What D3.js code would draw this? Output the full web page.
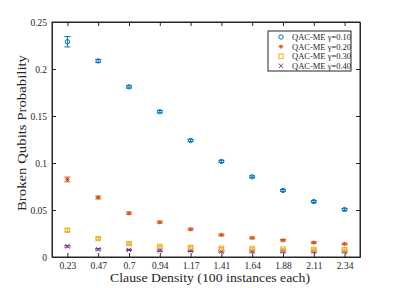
<!DOCTYPE html>
<html>
<head>
<meta charset="utf-8">
<script src="https://cdn.jsdelivr.net/npm/d3@7"></script>
<style>
  body { margin: 0; background: #fff; }
  text { font-family: "Liberation Serif", "Times New Roman", serif; fill: #262626; }
</style>
</head>
<body>
<div id="chart"></div>
<script>
// data
let densities = ["0.23", "0.47", "0.7", "0.94", "1.17", "1.41", "1.64", "1.88", "2.11", "2.34"];
let seriesNames = ["QAC-ME \u03b3=0.10", "QAC-ME \u03b3=0.20", "QAC-ME \u03b3=0.30", "QAC-ME \u03b3=0.40"];
let g010 = [0.229, 0.2086, 0.181, 0.1546, 0.124, 0.1017, 0.0853, 0.0708, 0.059, 0.0505];
let g020 = [0.0825, 0.0633, 0.0466, 0.037, 0.0295, 0.0235, 0.0203, 0.0178, 0.0153, 0.0139];
let g030 = [0.0285, 0.0196, 0.0143, 0.0114, 0.0103, 0.0093, 0.009, 0.0085, 0.008, 0.0078];
let g040 = [0.0114, 0.0082, 0.0075, 0.0068, 0.0066, 0.006, 0.006, 0.0059, 0.0058, 0.0058];
let e010 = [0.0055, 0.0015, 0.0012, 0.0012, 0.0012, 0.0011, 0.001, 0.001, 0.001, 0.001];
let e020 = [0.0025, 0.0015, 0.0012, 0.001, 0.001, 0.0009, 0.0009, 0.0008, 0.0008, 0.0008];
let e030 = [0.0015, 0.0012, 0.001, 0.0009, 0.0009, 0.0008, 0.0008, 0.0008, 0.0008, 0.0008];
let e040 = [0.0009, 0.0008, 0.0007, 0.0007, 0.0007, 0.0007, 0.0007, 0.0007, 0.0007, 0.0007];
let yTicks = [0, 0.05, 0.1, 0.15, 0.2, 0.25];

let colors = ["#0072BD", "#D95319", "#EDB120", "#7E2F8E"];
let shapes = ["circle", "asterisk", "square", "cross"];

let width = 399, height = 288;
let margin = {top: 22, right: 39, bottom: 31, left: 52};
let w = width - margin.left - margin.right,
    h = height - margin.top - margin.bottom;

let svg = d3.select("#chart").append("svg")
    .attr("width", width)
    .attr("height", height);

let g = svg.append("g")
    .attr("transform", "translate(" + margin.left + "," + margin.top + ")");

let x = d3.scaleLinear().domain([-0.5, densities.length - 0.5]).range([0, w]);
let y = d3.scaleLinear().domain([0, 0.25]).range([h, 0]);

// axes, MATLAB style: box with inward ticks
let tickLen = 4;
let xAxis = d3.axisBottom(x).tickValues(d3.range(densities.length))
    .tickFormat(i => densities[i]).tickSizeInner(-tickLen).tickSizeOuter(0).tickPadding(5);
let yAxis = d3.axisLeft(y).tickValues(yTicks)
    .tickFormat(d => String(+d.toFixed(2))).tickSizeInner(-tickLen).tickSizeOuter(0).tickPadding(5);

g.append("g").attr("transform", "translate(0," + h + ")").call(xAxis);
g.append("g").call(yAxis);
g.append("g").call(d3.axisTop(x).tickValues(d3.range(densities.length)).tickFormat("").tickSizeInner(-tickLen).tickSizeOuter(0));
g.append("g").attr("transform", "translate(" + w + ",0)")
    .call(d3.axisRight(y).tickValues(yTicks).tickFormat("").tickSizeInner(-tickLen).tickSizeOuter(0));

g.selectAll(".domain").attr("stroke", "#262626");
g.selectAll(".tick line").attr("stroke", "#262626");
g.selectAll(".tick text").style("font-size", "9.5px").attr("fill", "#262626");

g.append("rect").attr("width", w).attr("height", h)
    .attr("fill", "none").attr("stroke", "#262626").attr("stroke-width", 1);

// labels
svg.append("text")
    .attr("x", 210).attr("y", 282)
    .attr("text-anchor", "middle").style("font-size", "13.5px")
    .attr("textLength", 200).attr("lengthAdjust", "spacingAndGlyphs")
    .text("Clause Density (100 instances each)");
svg.append("text")
    .attr("transform", "translate(26,133) rotate(-90)")
    .attr("text-anchor", "middle").style("font-size", "13.5px")
    .attr("textLength", 156).attr("lengthAdjust", "spacingAndGlyphs")
    .text("Broken Qubits Probability");

function drawMarker(sel, shape, color, s) {
  if (shape === "circle") {
    sel.append("circle").attr("r", s).attr("fill", "none").attr("stroke", color).attr("stroke-width", 1);
  } else if (shape === "square") {
    sel.append("rect").attr("x", -s).attr("y", -s).attr("width", 2 * s).attr("height", 2 * s)
        .attr("fill", "none").attr("stroke", color).attr("stroke-width", 1);
  } else if (shape === "cross") {
    sel.append("path").attr("d", "M" + -s + "," + -s + "L" + s + "," + s + "M" + -s + "," + s + "L" + s + "," + -s)
        .attr("stroke", color).attr("stroke-width", 1);
  } else {
    let d = s * 0.7;
    sel.append("path").attr("d", "M" + -s + ",0L" + s + ",0M0," + -s + "L0," + s +
        "M" + -d + "," + -d + "L" + d + "," + d + "M" + -d + "," + d + "L" + d + "," + -d)
        .attr("stroke", color).attr("stroke-width", 1);
  }
}

let allValues = [g010, g020, g030, g040];
let allErrors = [e010, e020, e030, e040];
let cap = 3;

// draw back to front
for (let k = allValues.length - 1; k >= 0; k--) {
  let vals = allValues[k], errs = allErrors[k], c = colors[k];
  let pts = g.append("g").selectAll("g").data(vals).enter().append("g");
  pts.append("path")
      .attr("d", (d, i) => {
        let cx = x(i), y1 = y(d + errs[i]), y0 = y(d - errs[i]);
        return "M" + cx + "," + y0 + "L" + cx + "," + y1 +
          "M" + (cx - cap) + "," + y1 + "L" + (cx + cap) + "," + y1 +
          "M" + (cx - cap) + "," + y0 + "L" + (cx + cap) + "," + y0;
      })
      .attr("stroke", c).attr("stroke-width", 1).attr("fill", "none");
  pts.append("g")
      .attr("transform", (d, i) => "translate(" + x(i) + "," + y(d) + ")")
      .each(function() { drawMarker(d3.select(this), shapes[k], c, 2.2); });
}

// legend
let lx = 268, ly = 31, lw = 83, lh = 40;
svg.append("rect").attr("x", lx).attr("y", ly).attr("width", lw).attr("height", lh)
    .attr("fill", "#fff").attr("stroke", "#262626").attr("stroke-width", 1);
seriesNames.forEach((name, k) => {
  let yy = ly + 6 + k * 9.6;
  let mg = svg.append("g").attr("transform", "translate(" + (lx + 13) + "," + yy + ")");
  drawMarker(mg, shapes[k], colors[k], 2.2);
  svg.append("text").attr("x", lx + 24).attr("y", yy + 3)
      .style("font-size", "8.5px").text(name);
});
</script>
</body>
</html>
